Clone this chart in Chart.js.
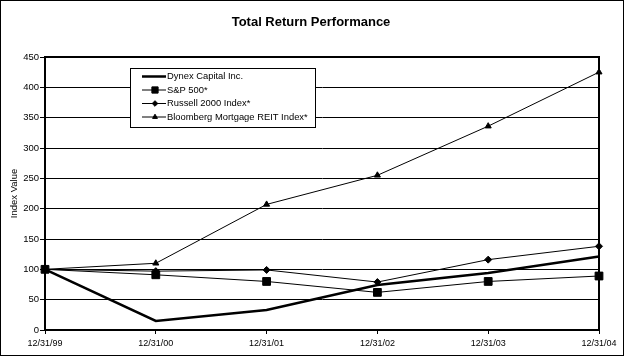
<!DOCTYPE html>
<html><head><meta charset="utf-8">
<script src="https://cdn.jsdelivr.net/npm/chart.js@4/dist/chart.umd.min.js"></script>
<style>html,body{margin:0;padding:0;background:#fff}#wrap{width:624px;height:356px;position:relative}</style>
</head><body><div id="wrap"><canvas id="c" width="624" height="356"></canvas></div>
<script>
const categories = ["12/31/99","12/31/00","12/31/01","12/31/02","12/31/03","12/31/04"];
const dynex = [100, 15, 33, 74, 94, 121];
const sp500 = [100, 91, 80, 62, 80, 89];
const russell = [100, 97, 99, 79, 116, 138];
const bloomberg = [100, 110, 207, 255, 336, 425];
const seriesNames = ["Dynex Capital Inc.","S&P 500*","Russell 2000 Index*","Bloomberg Mortgage REIT Index*"];
const titleText = "Total Return Performance";
const yTitle = "Index Value";

const FONT = "'Liberation Sans', Arial, sans-serif";

const framePlugin = {
  id: 'frame',
  afterDraw(chart) {
    const ctx = chart.ctx, a = chart.chartArea;
    ctx.save();
    ctx.strokeStyle = '#000';
    ctx.lineWidth = 1;
    ctx.strokeRect(0.5, 0.5, 623, 355);
    ctx.lineWidth = 2;
    ctx.strokeRect(a.left, a.top, a.right - a.left, a.bottom - a.top);
    // title
    ctx.fillStyle = '#000';
    ctx.font = "bold 13px " + FONT;
    ctx.textAlign = 'center';
    ctx.textBaseline = 'middle';
    ctx.fillText(titleText, 311, 22);
    // legend
    const lx = 130, ly = 68, lw = 185, lh = 59;
    ctx.fillStyle = '#fff';
    ctx.fillRect(lx, ly, lw, lh);
    ctx.lineWidth = 1;
    ctx.strokeStyle = '#000';
    ctx.strokeRect(lx + 0.5, ly + 0.5, lw, lh);
    ctx.font = "9.4px " + FONT;
    ctx.textAlign = 'left';
    chart.data.datasets.forEach((ds, i) => {
      const y = ly + 8.5 + i * 13.5;
      ctx.strokeStyle = '#000';
      ctx.lineWidth = ds.borderWidth;
      ctx.beginPath(); ctx.moveTo(lx + 12, y); ctx.lineTo(lx + 36, y); ctx.stroke();
      if (ds.pointStyle && ds.pointRadius > 0) {
        ctx.fillStyle = '#000';
        Chart.helpers.drawPoint(ctx, {pointStyle: ds.pointStyle, radius: ds.pointRadius * 0.8, borderWidth: 1, rotation: 0}, lx + 25, y);
      }
      ctx.fillStyle = '#000';
      ctx.fillText(ds.label, lx + 37, y);
    });
    ctx.restore();
  }
};

new Chart(document.getElementById('c'), {
  type: 'line',
  data: {
    labels: categories,
    datasets: [
      {label: seriesNames[0], data: dynex, borderColor: '#000', borderWidth: 2.5, pointRadius: 0, pointStyle: false, tension: 0},
      {label: seriesNames[1], data: sp500, borderColor: '#000', backgroundColor: '#000', borderWidth: 1, pointStyle: 'rect', pointRadius: 5.5, tension: 0},
      {label: seriesNames[2], data: russell, borderColor: '#000', backgroundColor: '#000', borderWidth: 1, pointStyle: 'rectRot', pointRadius: 3.5, tension: 0},
      {label: seriesNames[3], data: bloomberg, borderColor: '#000', backgroundColor: '#000', borderWidth: 1, pointStyle: 'triangle', pointRadius: 3.5, tension: 0}
    ]
  },
  options: {
    responsive: false,
    animation: false,
    events: [],
    layout: {padding: {top: 57, right: 25, left: 0, bottom: 0}},
    plugins: {legend: {display: false}, tooltip: {enabled: false}, title: {display: false}},
    scales: {
      x: {
        offset: false,
        afterFit: s => { s.height = 26; },
        grid: {drawOnChartArea: false, color: '#000', tickLength: 4, lineWidth: 1},
        border: {color: '#000', width: 2},
        ticks: {color: '#000', font: {family: FONT, size: 9}, maxRotation: 0, autoSkip: false, padding: 4}
      },
      y: {
        min: 0, max: 450,
        afterFit: s => { s.width = 45; },
        grid: {color: '#000', lineWidth: 1, tickLength: 5},
        border: {color: '#000', width: 2},
        ticks: {stepSize: 50, color: '#000', font: {family: FONT, size: 9.5}, padding: 1},
        title: {display: true, text: yTitle, color: '#000', font: {family: FONT, size: 9.5}, padding: {top: 9, bottom: 0}}
      }
    }
  },
  plugins: [framePlugin]
});
</script></body></html>
